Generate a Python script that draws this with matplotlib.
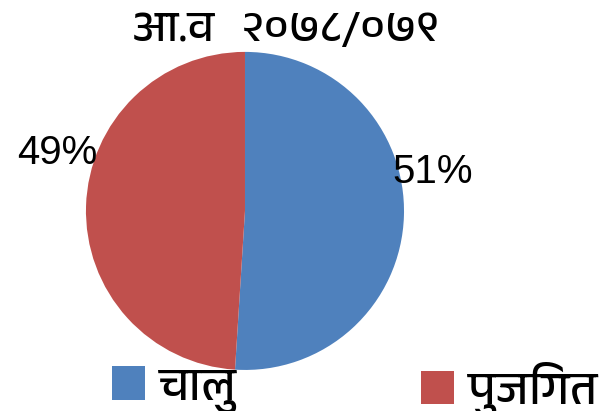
import matplotlib.pyplot as plt
from matplotlib import font_manager as fm
from matplotlib.patches import Patch

title = 'आ.व   २०७८/०७९'
labels = ['चालु', 'पुजिगत']
shares = [51, 49]
colors = ['#4F81BD', '#C0504D']

# look for any font that can draw Devanagari
names = sorted({f.name for f in fm.fontManager.ttflist})
deva = [n for n in names if 'Devanagari' in n or 'Lohit' in n or 'Mukta' in n or 'Hind' in n]
plt.rcParams['font.family'] = deva + ['DejaVu Sans']

fig = plt.figure(figsize=(6.14, 4.11), dpi=100)
ax = fig.add_axes([0.140, 0.0998, 0.518, 0.774])
ax.pie(shares, colors=colors, startangle=90, counterclock=False,
       wedgeprops=dict(linewidth=0))
ax.set_xlim(-1, 1)
ax.set_ylim(-1, 1)
ax.set_aspect('equal')

pct_font = dict(fontsize=29, family='Liberation Sans', ha='center', va='center')
ax.text(1.18, 0.245, f'{shares[0]}%', **pct_font)
ax.text(-1.18, 0.365, f'{shares[1]}%', **pct_font)

fig.text(0.466, 0.925, title, fontsize=32, fontweight='bold', ha='center', va='center')

# one legend per entry so each can sit where it is in the original
for lab, c, x in zip(labels, colors, [112 / 614, 421 / 614]):
    fig.legend([Patch(facecolor=c, edgecolor='none')], [lab], loc='center left',
               bbox_to_anchor=(x, 1 - 390 / 411), frameon=False, fontsize=34,
               handlelength=0.7, handleheight=0.7, handletextpad=0.3,
               borderpad=0, borderaxespad=0)

fig.savefig('out.png', dpi=100)
